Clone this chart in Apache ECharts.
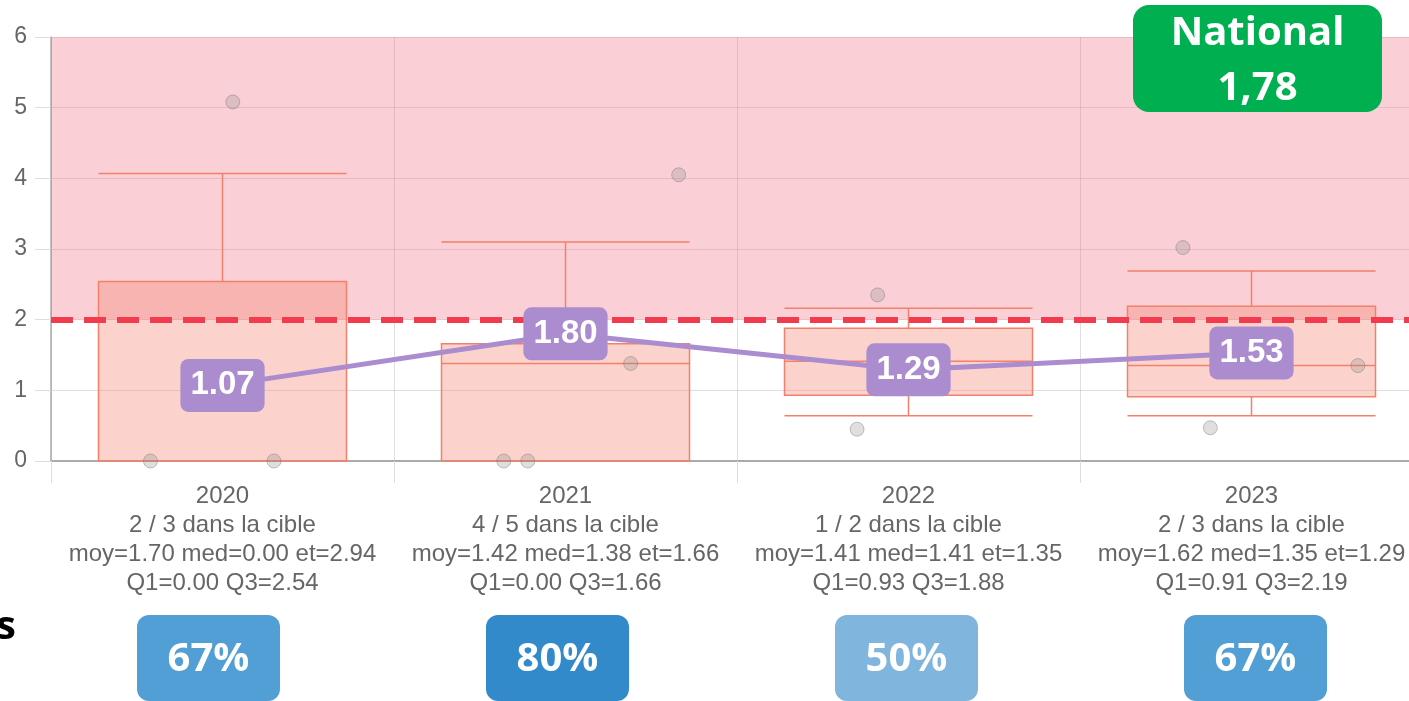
<!DOCTYPE html>
<html>
<head>
<meta charset="utf-8">
<script src="https://cdn.jsdelivr.net/npm/echarts@6.0.0/dist/echarts.min.js"></script>
<style>
  html, body { margin: 0; padding: 0; background: #fff; }
  #main { width: 1409px; height: 701px; }
</style>
</head>
<body>
<div id="main"></div>
<script>
// data
const years = ['2020', '2021', '2022', '2023'];
const inTarget = ['2 / 3', '4 / 5', '1 / 2', '2 / 3'];
const moy = ['1.70', '1.42', '1.41', '1.62'];
const med = ['0.00', '1.38', '1.41', '1.35'];
const et = ['2.94', '1.66', '1.35', '1.29'];
const q1 = ['0.00', '0.00', '0.93', '0.91'];
const q3 = ['2.54', '1.66', '1.88', '2.19'];
// [low whisker, Q1, median, Q3, high whisker]
const boxes = [
  [0, 0, 0, 2.54, 4.07],
  [0, 0, 1.38, 1.66, 3.10],
  [0.64, 0.93, 1.41, 1.88, 2.16],
  [0.64, 0.91, 1.35, 2.19, 2.69]
];
const means = [1.07, 1.80, 1.29, 1.53];
// individual values and their horizontal jitter (in category units)
const pointValues = [[0, 0, 5.08], [0, 0, 1.66, 1.38, 4.05], [0.45, 2.35], [3.02, 0.47, 1.35]];
const pointJitter = [[-0.21, 0.15, 0.03], [-0.18, -0.11, -0.02, 0.19, 0.33], [-0.15, -0.09], [-0.2, -0.12, 0.31]];
const percents = [67, 80, 50, 67];
const target = 2;
const yTicks = [0, 1, 2, 3, 4, 5, 6];
const nationalValue = '1,78';

const badgeColors = ['#529fd5', '#338acb', '#80b5de', '#529fd5'];

const points = [];
pointValues.forEach((vals, i) => {
  vals.forEach((v, j) => points.push([i + pointJitter[i][j], v]));
});

const chart = echarts.init(document.getElementById('main'));

const badgeFont = 'bold 40px "Open Sans"';
const graphics = [];
percents.forEach((p, i) => {
  const x0 = 137 + i * 349;
  graphics.push({ type: 'rect', z: 100, shape: { x: x0, y: 615, width: 143, height: 86, r: 12 }, style: { fill: badgeColors[i] } });
  graphics.push({ type: 'text', z: 101, x: x0 + 71.5, y: 660, style: { text: p + '%', fill: '#fff', font: badgeFont, align: 'center', verticalAlign: 'middle' } });
});
graphics.push({ type: 'rect', z: 100, shape: { x: 1133, y: 5, width: 249, height: 107, r: 16 }, style: { fill: '#00b050' } });
graphics.push({ type: 'text', z: 101, x: 1257.5, y: 34, style: { text: 'National', fill: '#fff', font: badgeFont, align: 'center', verticalAlign: 'middle' } });
graphics.push({ type: 'text', z: 101, x: 1257.5, y: 89, style: { text: nationalValue, fill: '#fff', font: badgeFont, align: 'center', verticalAlign: 'middle' } });
graphics.push({ type: 'text', z: 101, x: -4, y: 628, style: { text: 's', fill: '#000', font: badgeFont, verticalAlign: 'middle' } });

chart.setOption({
  animation: false,
  grid: { left: 51, top: 37, width: 1372, bottom: 240, outerBoundsMode: 'none' },
  xAxis: [
    {
      type: 'category',
      data: years,
      boundaryGap: true,
      axisLine: { lineStyle: { color: '#aaa', width: 2 } },
      axisTick: { show: true, length: 22, lineStyle: { color: '#ddd' } },
      splitLine: { show: true, lineStyle: { color: 'rgba(0,0,0,0.12)' } },
      axisLabel: {
        interval: 0,
        margin: 21,
        color: '#666',
        fontFamily: 'Liberation Sans, Arial',
        fontSize: 24,
        lineHeight: 29,
        formatter: (v, i) => v + '\n' + inTarget[i] + ' dans la cible\n' +
          'moy=' + moy[i] + ' med=' + med[i] + ' et=' + et[i] + '\nQ1=' + q1[i] + ' Q3=' + q3[i]
      }
    },
    { type: 'value', min: -0.5, max: 3.5, show: false }
  ],
  yAxis: {
    type: 'value',
    min: yTicks[0],
    max: yTicks[yTicks.length - 1],
    interval: 1,
    axisLine: { show: true, onZero: false, lineStyle: { color: '#aaa', width: 1.5 } },
    axisTick: { show: true, length: 16, lineStyle: { color: '#ddd' } },
    splitLine: { lineStyle: { color: 'rgba(0,0,0,0.12)' } },
    axisLabel: { margin: 24, color: '#666', fontFamily: 'Liberation Sans, Arial', fontSize: 23 }
  },
  series: [
    {
      type: 'line',
      data: [],
      z: 1,
      markArea: {
        silent: true,
        itemStyle: { color: 'rgba(240,100,120,0.3)' },
        data: [[{ yAxis: target }, { yAxis: yTicks[yTicks.length - 1] }]]
      }
    },
    {
      type: 'boxplot',
      data: boxes,
      boxWidth: [248, 248],
      z: 2,
      itemStyle: { color: 'rgba(245,130,110,0.35)', borderColor: '#f2806a', borderWidth: 1.5 }
    },
    {
      type: 'line',
      data: [],
      z: 3,
      markLine: {
        silent: true,
        symbol: 'none',
        label: { show: false },
        lineStyle: { color: '#f23b4e', width: 6, type: [22, 11] },
        data: [{ yAxis: target }]
      }
    },
    {
      type: 'scatter',
      xAxisIndex: 1,
      data: points,
      symbolSize: 14,
      z: 4,
      itemStyle: { color: 'rgba(140,140,140,0.35)', borderColor: 'rgba(110,110,110,0.5)', borderWidth: 1 }
    },
    {
      type: 'line',
      data: means,
      z: 5,
      symbol: 'circle',
      symbolSize: 2,
      itemStyle: { color: '#ab8dcf' },
      lineStyle: { color: '#ab8dcf', width: 5 },
      label: {
        show: true,
        position: 'inside',
        formatter: p => p.value.toFixed(2),
        color: '#fff',
        fontFamily: 'Liberation Sans, Arial',
        fontWeight: 'bold',
        fontSize: 33,
        backgroundColor: '#ab8dcf',
        borderRadius: 8,
        padding: [11, 10, 9, 10]
      }
    }
  ],
  graphic: graphics
});
</script>
</body>
</html>
